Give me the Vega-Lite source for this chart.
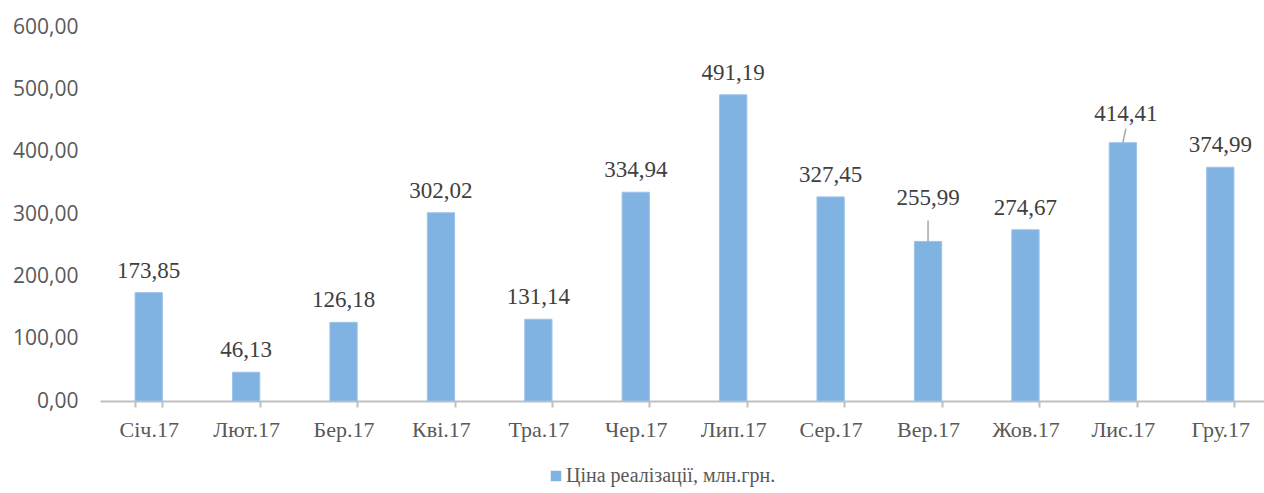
{
  "$schema": "https://vega.github.io/schema/vega-lite/v6.json",
  "width": 1169,
  "height": 374,
  "autosize": {"type": "none"},
  "padding": {"left": 100, "top": 27, "right": 0, "bottom": 92},
  "background": "white",
  "config": {
    "view": {"stroke": null},
    "locale": {"number": {"decimal": ",", "thousands": " ", "grouping": [3], "currency": ["", " грн"]}}
  },
  "data": {
    "values": [
      {"month": "Січ.17", "value": 173.85, "series": "Ціна реалізації, млн.грн."},
      {"month": "Лют.17", "value": 46.13, "series": "Ціна реалізації, млн.грн."},
      {"month": "Бер.17", "value": 126.18, "series": "Ціна реалізації, млн.грн."},
      {"month": "Кві.17", "value": 302.02, "series": "Ціна реалізації, млн.грн."},
      {"month": "Тра.17", "value": 131.14, "series": "Ціна реалізації, млн.грн."},
      {"month": "Чер.17", "value": 334.94, "series": "Ціна реалізації, млн.грн."},
      {"month": "Лип.17", "value": 491.19, "series": "Ціна реалізації, млн.грн."},
      {"month": "Сер.17", "value": 327.45, "series": "Ціна реалізації, млн.грн."},
      {"month": "Вер.17", "value": 255.99, "series": "Ціна реалізації, млн.грн."},
      {"month": "Жов.17", "value": 274.67, "series": "Ціна реалізації, млн.грн."},
      {"month": "Лис.17", "value": 414.41, "series": "Ціна реалізації, млн.грн."},
      {"month": "Гру.17", "value": 374.99, "series": "Ціна реалізації, млн.грн."}
    ]
  },
  "encoding": {
    "x": {
      "field": "month",
      "type": "nominal",
      "sort": null,
      "scale": {"paddingInner": 0.72, "paddingOuter": 0.36},
      "axis": {
        "title": null,
        "labelAngle": 0,
        "labelFont": "Liberation Serif, serif",
        "labelFontSize": 22,
        "labelColor": "#595959",
        "labelPadding": 12,
        "domainColor": "#BFBFBF",
        "domainWidth": 2,
        "tickColor": "#BFBFBF",
        "tickWidth": 2,
        "tickSize": 6,
        "tickBand": "extent",
        "grid": false
      }
    }
  },
  "layer": [
    {
      "mark": {"type": "bar", "fill": "#80B2E2", "stroke": "#9CC3EA", "strokeWidth": 1},
      "encoding": {
        "y": {
          "field": "value",
          "type": "quantitative",
          "scale": {"domain": [0, 600], "nice": false},
          "axis": {
            "title": null,
            "values": [0, 100, 200, 300, 400, 500, 600],
            "format": ".2f",
            "labelFont": "Open Sans",
            "labelFontSize": 21,
            "labelColor": "#595959",
            "labelPadding": 22,
            "domain": false,
            "ticks": false,
            "grid": false
          }
        },
        "color": {
          "field": "series",
          "type": "nominal",
          "scale": {"range": ["#80B2E2"]},
          "legend": {
            "title": null,
            "orient": "none",
            "legendX": 446,
            "legendY": 439,
            "padding": 0,
            "symbolType": "square",
            "symbolSize": 110,
            "symbolStrokeWidth": 0,
            "labelFont": "Liberation Serif, serif",
            "labelFontSize": 20,
            "labelColor": "#595959",
            "labelOffset": 0,
            "labelLimit": 500
          }
        }
      }
    },
    {
      "transform": [{"filter": "datum.month !== 'Вер.17' && datum.month !== 'Лис.17'"}],
      "mark": {"type": "text", "font": "Liberation Serif, serif", "fontSize": 23, "color": "#404040", "baseline": "alphabetic", "dy": -15},
      "encoding": {
        "y": {"field": "value", "type": "quantitative"},
        "text": {"field": "value", "type": "quantitative", "format": ".2f"}
      }
    },
    {
      "transform": [{"filter": "datum.month === 'Вер.17'"}],
      "mark": {"type": "text", "font": "Liberation Serif, serif", "fontSize": 23, "color": "#404040", "baseline": "alphabetic", "dy": -36},
      "encoding": {
        "y": {"field": "value", "type": "quantitative"},
        "text": {"field": "value", "type": "quantitative", "format": ".2f"}
      }
    },
    {
      "transform": [{"filter": "datum.month === 'Лис.17'"}],
      "mark": {"type": "text", "font": "Liberation Serif, serif", "fontSize": 23, "color": "#404040", "baseline": "alphabetic", "dy": -22, "dx": 3},
      "encoding": {
        "y": {"field": "value", "type": "quantitative"},
        "text": {"field": "value", "type": "quantitative", "format": ".2f"}
      }
    },
    {
      "transform": [{"filter": "datum.month === 'Вер.17'"}],
      "mark": {"type": "rule", "color": "#A6A6A6", "strokeWidth": 1.5, "y2Offset": -21},
      "encoding": {
        "y": {"field": "value", "type": "quantitative"},
        "y2": {"field": "value"}
      }
    },
    {
      "transform": [{"filter": "datum.month === 'Лис.17'"}],
      "mark": {"type": "rule", "color": "#A6A6A6", "strokeWidth": 1.5, "y2Offset": -14, "x2Offset": 3},
      "encoding": {
        "y": {"field": "value", "type": "quantitative"},
        "y2": {"field": "value"},
        "x2": {"field": "month"}
      }
    }
  ]
}
